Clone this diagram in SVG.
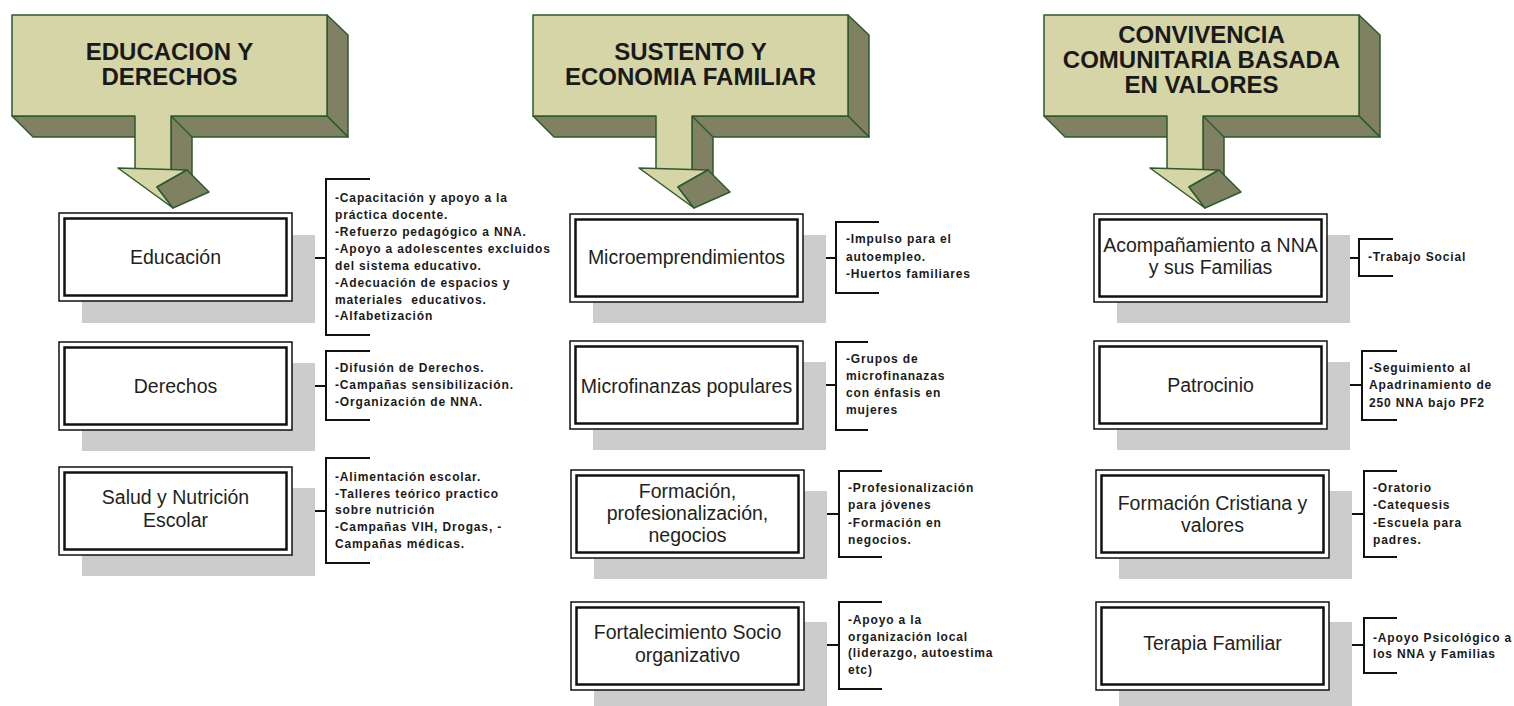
<svg xmlns="http://www.w3.org/2000/svg" xmlns:xlink="http://www.w3.org/1999/xlink" width="1514" height="706" viewBox="0 0 1514 706">
<style>
  .lt{fill:#d5d5a7;stroke:#2e5a2e;stroke-width:1.5;stroke-linejoin:round}
  .dk{fill:#808062;stroke:#2e5a2e;stroke-width:1.5;stroke-linejoin:round}
  .ht{font-family:"Liberation Sans",Arial,sans-serif;font-size:24px;font-weight:bold;fill:#1a1a1a;text-anchor:middle}
  .sh{fill:#cccccc}
  .bo{fill:#ffffff;stroke:#111;stroke-width:1.5}
  .bi{fill:none;stroke:#111;stroke-width:2.5}
  .bl{font-family:"Liberation Sans",Arial,sans-serif;font-size:19.5px;fill:#231f20;text-anchor:middle}
  .ln{fill:none;stroke:#111;stroke-width:2}
  .it{font-family:"Liberation Sans",Arial,sans-serif;font-size:12px;font-weight:bold;letter-spacing:0.85px;fill:#1a1a1a;white-space:pre}
</style>
<defs>
  <g id="hdr">
    <polygon class="dk" points="315,15 336,35 336,137 315,116"/>
    <polygon class="dk" points="0,116 315,116 336,137 21,137"/>
    <polygon class="dk" points="159,116 180,137 180,180 159,170"/>
    <polygon class="lt" points="0,15 315,15 315,116 159,116 159,170 123,170 123,116 0,116"/>
    <polygon class="lt" points="106,168 175,170 145,187 161,208"/>
    <polygon class="dk" points="145,187 175,170 197,192 161,208"/>
  </g>
</defs>
<rect width="1514" height="706" fill="#ffffff"/>

<g id="header-educacion">
  <use xlink:href="#hdr" transform="translate(12,0)"/>
  <text class="ht" x="169.5" y="60">EDUCACION Y</text>
  <text class="ht" x="169.5" y="85">DERECHOS</text>
</g>
<g id="header-sustento">
  <use xlink:href="#hdr" transform="translate(533,0)"/>
  <text class="ht" x="690.5" y="60">SUSTENTO Y</text>
  <text class="ht" x="690.5" y="85">ECONOMIA FAMILIAR</text>
</g>
<g id="header-convivencia">
  <use xlink:href="#hdr" transform="translate(1044,0)"/>
  <text class="ht" x="1201.5" y="43">CONVIVENCIA</text>
  <text class="ht" x="1201.5" y="68">COMUNITARIA BASADA</text>
  <text class="ht" x="1201.5" y="93">EN VALORES</text>
</g>

<g id="connectors">
  <line class="ln" x1="292" y1="258" x2="326" y2="258"/>
  <line class="ln" x1="292" y1="386" x2="326" y2="386"/>
  <line class="ln" x1="292" y1="511" x2="326" y2="511"/>
  <line class="ln" x1="803" y1="258" x2="836" y2="258"/>
  <line class="ln" x1="803" y1="385" x2="836" y2="385"/>
  <line class="ln" x1="804" y1="514" x2="839" y2="514"/>
  <line class="ln" x1="804" y1="645" x2="839" y2="645"/>
  <line class="ln" x1="1327" y1="258" x2="1359" y2="258"/>
  <line class="ln" x1="1327" y1="385" x2="1362" y2="385"/>
  <line class="ln" x1="1328" y1="514" x2="1364" y2="514"/>
  <line class="ln" x1="1328" y1="645" x2="1364" y2="645"/>
  <polyline class="ln" points="370,179 326,179 326,335 370,335"/>
  <polyline class="ln" points="370,351 326,351 326,420 370,420"/>
  <polyline class="ln" points="370,458 326,458 326,563 370,563"/>
  <polyline class="ln" points="879,222 836,222 836,293 879,293"/>
  <polyline class="ln" points="868,342 836,342 836,430 868,430"/>
  <polyline class="ln" points="882,471 839,471 839,557 882,557"/>
  <polyline class="ln" points="882,602 839,602 839,689 882,689"/>
  <polyline class="ln" points="1393,239 1359,239 1359,276 1393,276"/>
  <polyline class="ln" points="1397,351 1362,351 1362,420 1397,420"/>
  <polyline class="ln" points="1397,471 1364,471 1364,557 1397,557"/>
  <polyline class="ln" points="1397,618 1364,618 1364,673 1397,673"/>
</g>

<!-- Column 1 -->
<g id="node-educacion">
  <rect class="sh" x="82" y="235" width="233" height="88"/>
  <rect class="bo" x="59" y="213" width="233" height="88"/>
  <rect class="bi" x="64.5" y="218.5" width="222" height="77"/>
  <text class="bl" x="175.5" y="264">Educación</text>
</g>
<g id="list-educacion">
  <text class="it" x="335" y="202">-Capacitación y apoyo a la</text>
  <text class="it" x="335" y="219">práctica docente.</text>
  <text class="it" x="335" y="236">-Refuerzo pedagógico a NNA.</text>
  <text class="it" x="335" y="253">-Apoyo a adolescentes excluidos</text>
  <text class="it" x="335" y="270">del sistema educativo.</text>
  <text class="it" x="335" y="287">-Adecuación de espacios y</text>
  <text class="it" x="335" y="304" xml:space="preserve">materiales  educativos.</text>
  <text class="it" x="335" y="320">-Alfabetización</text>
</g>

<g id="node-derechos">
  <rect class="sh" x="82" y="363" width="233" height="88"/>
  <rect class="bo" x="59" y="342" width="233" height="88"/>
  <rect class="bi" x="64.5" y="347.5" width="222" height="77"/>
  <text class="bl" x="175.5" y="393">Derechos</text>
</g>
<g id="list-derechos">
  <text class="it" x="335" y="372">-Difusión de Derechos.</text>
  <text class="it" x="335" y="389">-Campañas sensibilización.</text>
  <text class="it" x="335" y="406">-Organización de NNA.</text>
</g>

<g id="node-salud">
  <rect class="sh" x="82" y="488" width="233" height="88"/>
  <rect class="bo" x="59" y="467" width="233" height="88"/>
  <rect class="bi" x="64.5" y="472.5" width="222" height="77"/>
  <text class="bl" x="175.5" y="504">Salud y Nutrición</text>
  <text class="bl" x="175.5" y="527">Escolar</text>
</g>
<g id="list-salud">
  <text class="it" x="335" y="481">-Alimentación escolar.</text>
  <text class="it" x="335" y="498">-Talleres teórico practico</text>
  <text class="it" x="335" y="514">sobre nutrición</text>
  <text class="it" x="335" y="531">-Campañas VIH, Drogas, -</text>
  <text class="it" x="335" y="548">Campañas médicas.</text>
</g>

<!-- Column 2 -->
<g id="node-microemprendimientos">
  <rect class="sh" x="593" y="235" width="233" height="88"/>
  <rect class="bo" x="570" y="214" width="233" height="88"/>
  <rect class="bi" x="575.5" y="219.5" width="222" height="77"/>
  <text class="bl" x="686.5" y="264">Microemprendimientos</text>
</g>
<g id="list-microemprendimientos">
  <text class="it" x="846" y="243">-Impulso para el</text>
  <text class="it" x="846" y="261">autoempleo.</text>
  <text class="it" x="846" y="278">-Huertos familiares</text>
</g>

<g id="node-microfinanzas">
  <rect class="sh" x="593" y="362" width="233" height="88"/>
  <rect class="bo" x="570" y="341" width="233" height="88"/>
  <rect class="bi" x="575.5" y="346.5" width="222" height="77"/>
  <text class="bl" x="686.5" y="393">Microfinanzas populares</text>
</g>
<g id="list-microfinanzas">
  <text class="it" x="846" y="363">-Grupos de</text>
  <text class="it" x="846" y="380">microfinanazas</text>
  <text class="it" x="846" y="397">con énfasis en</text>
  <text class="it" x="846" y="414">mujeres</text>
</g>

<g id="node-formacion">
  <rect class="sh" x="594" y="491" width="233" height="88"/>
  <rect class="bo" x="571" y="470" width="233" height="88"/>
  <rect class="bi" x="576.5" y="475.5" width="222" height="77"/>
  <text class="bl" x="687.5" y="498">Formación,</text>
  <text class="bl" x="687.5" y="520">profesionalización,</text>
  <text class="bl" x="687.5" y="542">negocios</text>
</g>
<g id="list-formacion">
  <text class="it" x="848" y="492">-Profesionalización</text>
  <text class="it" x="848" y="509">para jóvenes</text>
  <text class="it" x="848" y="527">-Formación en</text>
  <text class="it" x="848" y="544">negocios.</text>
</g>

<g id="node-fortalecimiento">
  <rect class="sh" x="594" y="622" width="233" height="88"/>
  <rect class="bo" x="571" y="602" width="233" height="88"/>
  <rect class="bi" x="576.5" y="607.5" width="222" height="77"/>
  <text class="bl" x="687.5" y="639">Fortalecimiento Socio</text>
  <text class="bl" x="687.5" y="662">organizativo</text>
</g>
<g id="list-fortalecimiento">
  <text class="it" x="848" y="624">-Apoyo a la</text>
  <text class="it" x="848" y="641">organización local</text>
  <text class="it" x="848" y="657">(liderazgo, autoestima</text>
  <text class="it" x="848" y="674">etc)</text>
</g>

<!-- Column 3 -->
<g id="node-acompanamiento">
  <rect class="sh" x="1117" y="235" width="233" height="88"/>
  <rect class="bo" x="1094" y="214" width="233" height="88"/>
  <rect class="bi" x="1099.5" y="219.5" width="222" height="77"/>
  <text class="bl" x="1210.5" y="252">Acompañamiento a NNA</text>
  <text class="bl" x="1210.5" y="274">y sus Familias</text>
</g>
<g id="list-acompanamiento">
  <text class="it" x="1368" y="261">-Trabajo Social</text>
</g>

<g id="node-patrocinio">
  <rect class="sh" x="1117" y="362" width="233" height="88"/>
  <rect class="bo" x="1094" y="341" width="233" height="88"/>
  <rect class="bi" x="1099.5" y="346.5" width="222" height="77"/>
  <text class="bl" x="1210.5" y="392">Patrocinio</text>
</g>
<g id="list-patrocinio">
  <text class="it" x="1369" y="372">-Seguimiento al</text>
  <text class="it" x="1369" y="389">Apadrinamiento de</text>
  <text class="it" x="1369" y="407">250 NNA bajo PF2</text>
</g>

<g id="node-formacion-cristiana">
  <rect class="sh" x="1119" y="491" width="233" height="88"/>
  <rect class="bo" x="1096" y="470" width="233" height="88"/>
  <rect class="bi" x="1101.5" y="475.5" width="222" height="77"/>
  <text class="bl" x="1212.5" y="510">Formación Cristiana y</text>
  <text class="bl" x="1212.5" y="532">valores</text>
</g>
<g id="list-formacion-cristiana">
  <text class="it" x="1373" y="492">-Oratorio</text>
  <text class="it" x="1373" y="509">-Catequesis</text>
  <text class="it" x="1373" y="527">-Escuela para</text>
  <text class="it" x="1373" y="544">padres.</text>
</g>

<g id="node-terapia">
  <rect class="sh" x="1119" y="622" width="233" height="88"/>
  <rect class="bo" x="1096" y="602" width="233" height="88"/>
  <rect class="bi" x="1101.5" y="607.5" width="222" height="77"/>
  <text class="bl" x="1212.5" y="650">Terapia Familiar</text>
</g>
<g id="list-terapia">
  <text class="it" x="1373" y="642">-Apoyo Psicológico a</text>
  <text class="it" x="1373" y="658">los NNA y Familias</text>
</g>
</svg>
